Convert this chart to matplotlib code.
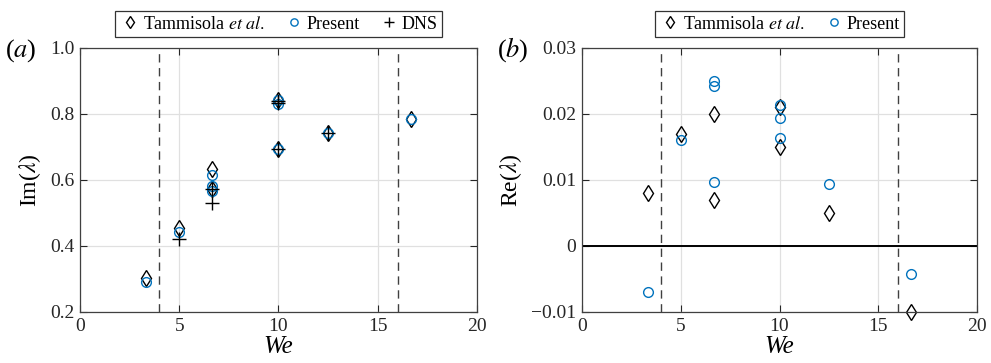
import numpy as np
import matplotlib
matplotlib.use("Agg")
import matplotlib.pyplot as plt

plt.rcParams['font.family'] = ['Liberation Serif', 'DejaVu Serif']
plt.rcParams['mathtext.fontset'] = 'stix'

# Tammisola et al.
we_tam = [3.33, 5, 6.67, 6.67, 10, 10, 12.5, 16.67]
im_tam = [0.302, 0.455, 0.633, 0.573, 0.842, 0.694, 0.742, 0.786]
re_tam = [0.008, 0.017, 0.020, 0.007, 0.021, 0.015, 0.005, -0.010]

# present
we_pre = [3.33, 5, 6.67, 6.67, 6.67, 10, 10, 10, 12.5, 16.67]
im_pre = [0.290, 0.443, 0.615, 0.583, 0.567, 0.843, 0.830, 0.694, 0.742, 0.786]
re_pre = [-0.0070, 0.0161, 0.0250, 0.0243, 0.0097, 0.0214, 0.0194, 0.0163, 0.0094, -0.0042]

# DNS
we_dns = [5, 6.67, 6.67, 10, 10, 10, 12.5]
im_dns = [0.421, 0.572, 0.530, 0.840, 0.834, 0.694, 0.742]

we_bounds = [4, 16]
xticks = [0, 5, 10, 15, 20]
im_ticks = [0.2, 0.4, 0.6, 0.8, 1.0]
im_labels = ['0.2', '0.4', '0.6', '0.8', '1.0']
re_ticks = [-0.01, 0, 0.01, 0.02, 0.03]
re_labels = ['\u22120.01', '0', '0.01', '0.02', '0.03']

blue = '#0072BD'
fs = 14

fig = plt.figure(figsize=(9.91, 3.63), dpi=100)
ax1 = fig.add_axes([0.0807, 0.1405, 0.4006, 0.7273])
ax2 = fig.add_axes([0.5873, 0.1405, 0.3986, 0.7273])

def style(ax):
    ax.set_xlim(0, 20)
    ax.set_xticks(xticks)
    ax.grid(True, color='#e0e0e0', lw=0.9)
    ax.set_axisbelow(True)
    ax.tick_params(direction='in', top=True, right=True, labelsize=fs,
                   length=5, width=0.8, colors='#262626', pad=4)
    for s in ax.spines.values():
        s.set_color('#404040')
        s.set_linewidth(0.9)
    for b in we_bounds:
        ax.axvline(b, color='#404040', ls=(0, (6, 4)), lw=1.0, zorder=1)
    ax.set_xlabel('We', fontsize=18, style='italic', labelpad=1)

def legend(ax, n):
    leg = ax.legend(loc='lower center', bbox_to_anchor=(0.5, 1.0), ncol=n,
                    fontsize=13, frameon=True, fancybox=False, edgecolor='k',
                    handletextpad=0.1, columnspacing=1.0, handlelength=1.2,
                    borderpad=0.25, borderaxespad=0.6, markerscale=0.75)
    leg.get_frame().set_linewidth(0.9)

style(ax1)
ax1.set_ylim(0.2, 1.0)
ax1.set_yticks(im_ticks)
ax1.set_yticklabels(im_labels)
ax1.plot(we_tam, im_tam, 'd', mfc='none', mec='k', ms=8, mew=1.0,
         label='Tammisola $\\it{et\\ al.}$')
ax1.plot(we_pre, im_pre, 'o', mfc='none', mec=blue, ms=7, mew=1.0,
         label='Present')
ax1.plot(we_dns, im_dns, '+', color='k', ms=10, mew=1.0, label='DNS')
ax1.set_ylabel('Im($\\lambda$)', fontsize=17, labelpad=5)
legend(ax1, 3)
fig.text(0.005, 0.843, '($a$)', fontsize=19, va='baseline')

style(ax2)
ax2.set_ylim(-0.01, 0.03)
ax2.set_yticks(re_ticks)
ax2.set_yticklabels(re_labels)
ax2.axhline(0, color='k', lw=1.4, zorder=2)
ax2.plot(we_tam, re_tam, 'd', mfc='none', mec='k', ms=8, mew=1.0,
         label='Tammisola $\\it{et\\ al.}$', clip_on=False)
ax2.plot(we_pre, re_pre, 'o', mfc='none', mec=blue, ms=7, mew=1.0,
         label='Present')
ax2.set_ylabel('Re($\\lambda$)', fontsize=17, labelpad=5)
legend(ax2, 2)
fig.text(0.5015, 0.843, '($b$)', fontsize=19, va='baseline')

fig.savefig('out.png', dpi=100)
